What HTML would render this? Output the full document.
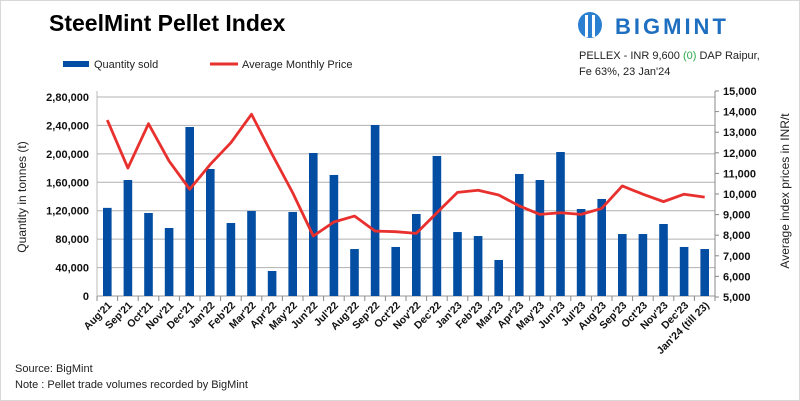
<!DOCTYPE html>
<html><head><meta charset="utf-8"><style>
body{margin:0;background:#fff}
#wrap{position:relative;width:798px;height:399px;border:1px solid #d8d8d8;font-family:"Liberation Sans",sans-serif;overflow:hidden}
svg text{font-family:"Liberation Sans",sans-serif}
</style></head><body>
<div id="wrap">
<svg id="c" width="798" height="399">
<text x="48" y="30" font-size="23" font-weight="bold" fill="#000">SteelMint Pellet Index</text>
<g>
<rect x="62" y="60" width="26" height="6" fill="#034ea2"/>
<text x="93" y="67" font-size="11" fill="#222">Quantity sold</text>
<line x1="209" y1="63" x2="237" y2="63" stroke="#e8302e" stroke-width="3"/>
<text x="241" y="67" font-size="11" fill="#222">Average Monthly Price</text>
</g>
<g>
<ellipse cx="589" cy="24" rx="12" ry="13" fill="#2a7fd0"/>
<rect x="584" y="14" width="3" height="22" fill="#fff"/><rect x="591" y="14" width="3" height="22" fill="#fff"/>
<text x="614" y="33" font-size="22" font-weight="bold" fill="#1f6fc0" letter-spacing="3">BIGMINT</text>
</g>
<text x="578" y="58" font-size="11" fill="#222">PELLEX - INR 9,600 <tspan fill="#2eaa4a">(0)</tspan> DAP Raipur,</text>
<text x="578" y="74" font-size="11" fill="#222">Fe 63%,   23 Jan'24</text>
<text transform="translate(25,196) rotate(-90)" text-anchor="middle" font-size="12" fill="#222">Quantity in tonnes (t)</text>
<text transform="translate(788,190) rotate(-90)" text-anchor="middle" font-size="12" fill="#222">Average index prices in INR/t</text>
<text x="14" y="371" font-size="11" fill="#222">Source: BigMint</text>
<text x="14" y="387" font-size="11" fill="#222">Note : Pellet trade volumes recorded by BigMint</text>
<g id="plot"></g>
</svg>
</div>
<script>
const categories=["Aug'21","Sep'21","Oct'21","Nov'21","Dec'21","Jan'22","Feb'22","Mar'22","Apr'22","May'22","Jun'22","Jul'22","Aug'22","Sep'22","Oct'22","Nov'22","Dec'22","Jan'23","Feb'23","Mar'23","Apr'23","May'23","Jun'23","Jul'23","Aug'23","Sep'23","Oct'23","Nov'23","Dec'23","Jan'24 (till 23)"];
const quantity=[1240000,1632000,1168000,957000,2378000,1787000,1027000,1196000,352000,1182000,2012000,1703000,661000,2406000,690000,1154000,1970000,900000,844000,507000,1717000,1632000,2026000,1224000,1365000,872000,872000,1013000,690000,661000];
const price=[13590,11260,13410,11600,10230,11440,12490,13870,11930,10060,7960,8640,8930,8200,8170,8090,9090,10080,10180,9950,9420,9010,9090,9010,9300,10390,9990,9630,9990,9850];
const leftTicks=[0,400000,800000,1200000,1600000,2000000,2400000,2800000];
const leftTickLabels=["0","40,000","80,000","1,20,000","1,60,000","2,00,000","2,40,000","2,80,000"];
const rightTicks=[5000,6000,7000,8000,9000,10000,11000,12000,13000,14000,15000];
const rightTickLabels=["5,000","6,000","7,000","8,000","9,000","10,000","11,000","12,000","13,000","14,000","15,000"];
const NS="http://www.w3.org/2000/svg";
const X0=96,X1=714,YB=295,YT=96,RYB=296,RYT=90;
const bw=(X1-X0)/categories.length;
const xc=i=>X0+bw*(i+0.5);
const yL=v=>YB-(v/2800000)*(YB-YT);
const yR=v=>RYB-((v-5000)/10000)*(RYB-RYT);
const g=document.getElementById('plot');
function mk(t,a){const e=document.createElementNS(NS,t);for(const k in a)e.setAttribute(k,a[k]);g.appendChild(e);return e;}
leftTicks.forEach((v,i)=>{
 const l=mk('line',{x1:X0,x2:X1,y1:yL(v),y2:yL(v),stroke:i==0?'#999':'#b0b0b0','stroke-width':1});
 
 
 const t=mk('text',{x:X0-8,y:yL(v)+4,'text-anchor':'end','font-size':11,'font-weight':'bold',fill:'#111'});
 t.textContent=leftTickLabels[i];
 
 
});
rightTicks.forEach((v,i)=>{
 const l=mk('line',{x1:X1,x2:X1+4,y1:yR(v),y2:yR(v),stroke:'#888'});
 
 
 const t=mk('text',{x:X1+8,y:yR(v)+4,'font-size':11,'font-weight':'bold',fill:'#111'});
 t.textContent=rightTickLabels[i];
 
 
});
const la=mk('line',{x1:X0,x2:X0,y1:YT-6,y2:YB,stroke:'#bbb'});


const ra=mk('line',{x1:X1,x2:X1,y1:RYT,y2:RYB,stroke:'#888'});


for(let i=0;i<=categories.length;i++){
 const l=mk('line',{x1:X0+bw*i,x2:X0+bw*i,y1:YB,y2:YB+5,stroke:'#888'});
 
 
}
quantity.forEach((v,i)=>{
 const r=mk('rect',{x:xc(i)-4.3,y:yL(v),width:8.6,height:YB-yL(v),fill:'#034ea2'});
 
 
});
const p=mk('polyline',{points:price.map((v,i)=>xc(i)+','+yR(v)).join(' '),fill:'none',stroke:'#e8302e','stroke-width':2.8,'stroke-linejoin':'round'});


categories.forEach((c,i)=>{
 const t=mk('text',{transform:`translate(${xc(i)+5},${YB+10}) rotate(-45)`,'text-anchor':'end','font-size':10.5,'font-weight':'bold',fill:'#111'});
 t.textContent=c;
 
 
});
</script>
</body></html>
